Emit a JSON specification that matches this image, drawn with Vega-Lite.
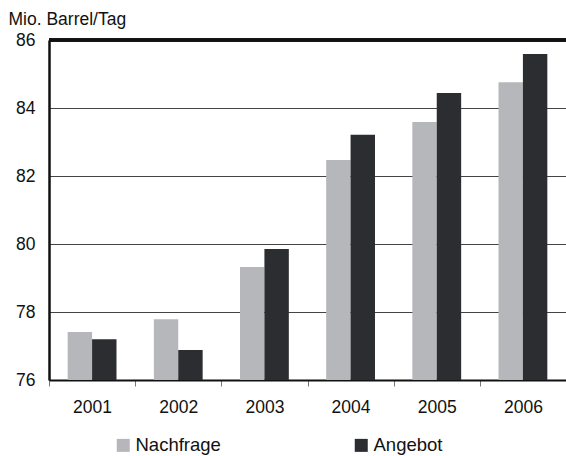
{
  "$schema": "https://vega.github.io/schema/vega-lite/v6.json",
  "width": 517,
  "height": 340,
  "autosize": {"type": "none"},
  "padding": {"left": 49, "top": 40, "right": 0, "bottom": 76},
  "background": "white",
  "config": {
    "font": "Liberation Sans",
    "view": {"stroke": null}
  },
  "data": {
    "values": [
      {"year": "2001", "series": "Nachfrage", "value": 77.41},
      {"year": "2001", "series": "Angebot", "value": 77.2},
      {"year": "2002", "series": "Nachfrage", "value": 77.79},
      {"year": "2002", "series": "Angebot", "value": 76.88},
      {"year": "2003", "series": "Nachfrage", "value": 79.32},
      {"year": "2003", "series": "Angebot", "value": 79.85},
      {"year": "2004", "series": "Nachfrage", "value": 82.47},
      {"year": "2004", "series": "Angebot", "value": 83.21},
      {"year": "2005", "series": "Nachfrage", "value": 83.59},
      {"year": "2005", "series": "Angebot", "value": 84.44},
      {"year": "2006", "series": "Nachfrage", "value": 84.76},
      {"year": "2006", "series": "Angebot", "value": 85.59}
    ]
  },
  "layer": [
    {
      "mark": {"type": "bar", "clip": true},
      "encoding": {
        "x": {
          "field": "year",
          "type": "nominal",
          "scale": {"paddingInner": 0, "paddingOuter": 0},
          "axis": {
            "title": null,
            "labelAngle": 0,
            "labelFontSize": 17.5,
            "labelColor": "#111",
            "labelDx": -3,
            "tickBand": "extent",
            "tickSize": 6,
            "tickColor": "#777",
            "domain": true,
            "domainColor": "#111",
            "domainWidth": 2,
            "labelPadding": 12
          }
        },
        "xOffset": {
          "field": "series",
          "sort": ["Nachfrage", "Angebot"],
          "scale": {"paddingInner": 0, "paddingOuter": 0.765}
        },
        "y": {
          "field": "value",
          "type": "quantitative",
          "scale": {"domain": [76, 86], "zero": false, "nice": false},
          "axis": {
            "values": [76, 78, 80, 82, 84, 86],
            "title": "Mio. Barrel/Tag",
            "titleAngle": 0,
            "titleAlign": "left",
            "titleBaseline": "alphabetic",
            "titleX": -41,
            "titleY": -16,
            "titleFontSize": 17.5,
            "titleFontWeight": "normal",
            "titleColor": "#111",
            "labelFontSize": 17.5,
            "labelColor": "#111",
            "labelPadding": 14,
            "ticks": false,
            "domain": true,
            "domainColor": "#111",
            "domainWidth": 2.5,
            "grid": true,
            "gridColor": "#444",
            "gridWidth": 1
          }
        },
        "color": {
          "field": "series",
          "type": "nominal",
          "scale": {"domain": ["Nachfrage", "Angebot"], "range": ["#b5b7ba", "#2c2d31"]},
          "legend": {
            "title": null,
            "orient": "none",
            "direction": "horizontal",
            "legendX": 65,
            "legendY": 396,
            "padding": 0,
            "symbolType": "square",
            "symbolSize": 169,
            "symbolStrokeWidth": 0,
            "symbolOpacity": 1,
            "labelFontSize": 18.5,
            "labelColor": "#111",
            "labelOffset": 3,
            "columnPadding": 131
          }
        }
      }
    },
    {
      "mark": {"type": "rule", "color": "#111", "strokeWidth": 2.5},
      "encoding": {"y": {"datum": 86}}
    }
  ]
}
